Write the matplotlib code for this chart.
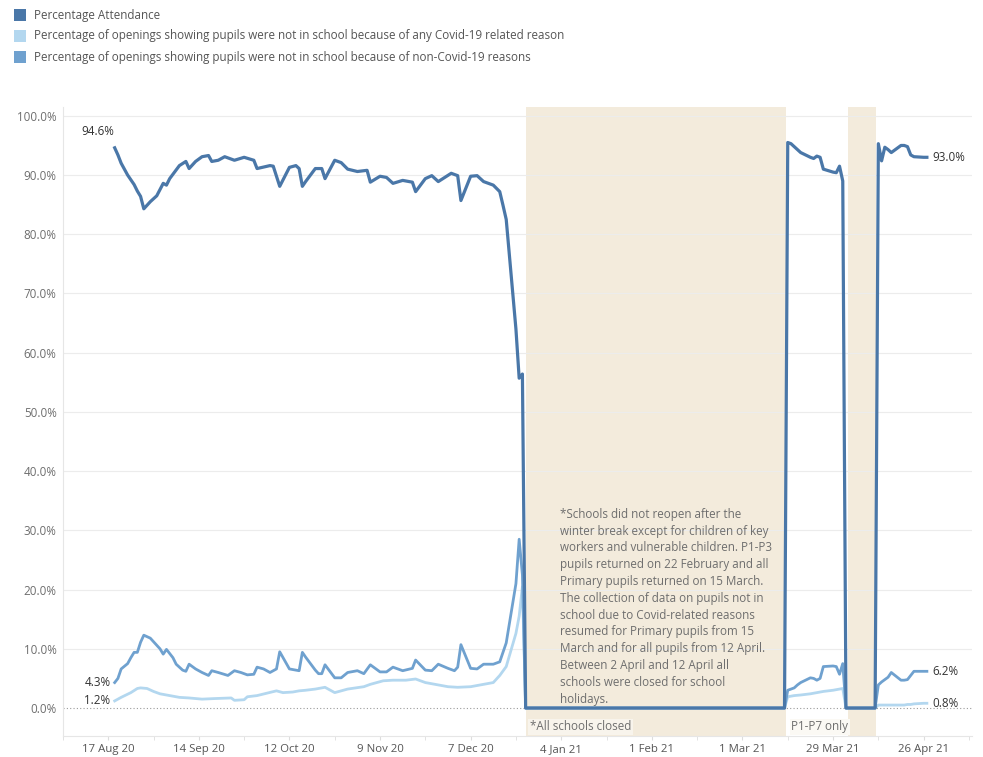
import matplotlib
matplotlib.use("Agg")
import matplotlib.pyplot as plt
from matplotlib.patches import Rectangle
import pandas as pd

plt.rcParams['font.family'] = ['Open Sans', 'DejaVu Sans']

# ---- data ----
att_dates = ["2020-08-19", "2020-08-20", "2020-08-21", "2020-08-23", "2020-08-25", "2020-08-26",
             "2020-08-27", "2020-08-28", "2020-08-30", "2020-09-01", "2020-09-03", "2020-09-04",
             "2020-09-05", "2020-09-08", "2020-09-10", "2020-09-11", "2020-09-13", "2020-09-15",
             "2020-09-17", "2020-09-18", "2020-09-20", "2020-09-22", "2020-09-25", "2020-09-28",
             "2020-10-01", "2020-10-02", "2020-10-06", "2020-10-07", "2020-10-09", "2020-10-12",
             "2020-10-14", "2020-10-15", "2020-10-16", "2020-10-17", "2020-10-20", "2020-10-22",
             "2020-10-23", "2020-10-26", "2020-10-28", "2020-10-30", "2020-11-02", "2020-11-05",
             "2020-11-06", "2020-11-09", "2020-11-11", "2020-11-13", "2020-11-16", "2020-11-18",
             "2020-11-19", "2020-11-20", "2020-11-23", "2020-11-25", "2020-11-27", "2020-12-01",
             "2020-12-03", "2020-12-04", "2020-12-07", "2020-12-09", "2020-12-11", "2020-12-14",
             "2020-12-16", "2020-12-17", "2020-12-18", "2020-12-21", "2020-12-22", "2020-12-23"]
att_vals = [94.6, 93.4, 92.0, 90.0, 88.4, 87.3,
            86.4, 84.3, 85.5, 86.5, 88.6, 88.3,
            89.4, 91.6, 92.3, 91.1, 92.3, 93.1,
            93.3, 92.3, 92.5, 93.1, 92.5, 93.0,
            92.5, 91.1, 91.6, 91.5, 88.1, 91.3,
            91.6, 91.1, 88.1, 88.9, 91.1, 91.1,
            89.4, 92.5, 92.1, 91.0, 90.6, 90.8,
            88.8, 89.8, 89.6, 88.6, 89.1, 88.9,
            88.8, 87.2, 89.4, 89.9, 88.9, 90.3,
            89.9, 85.7, 89.8, 89.9, 88.9, 88.3,
            87.2, 84.9, 82.5, 64.0, 55.7, 56.4]

noncov_dates = ["2020-08-19", "2020-08-20", "2020-08-21", "2020-08-23", "2020-08-24", "2020-08-25",
                "2020-08-26", "2020-08-27", "2020-08-28", "2020-08-30", "2020-08-31", "2020-09-02",
                "2020-09-03", "2020-09-04", "2020-09-06", "2020-09-07", "2020-09-09", "2020-09-10",
                "2020-09-11", "2020-09-13", "2020-09-15", "2020-09-17", "2020-09-18", "2020-09-20",
                "2020-09-23", "2020-09-25", "2020-09-27", "2020-09-29", "2020-10-01", "2020-10-02",
                "2020-10-04", "2020-10-06", "2020-10-08", "2020-10-09", "2020-10-12", "2020-10-15",
                "2020-10-16", "2020-10-17", "2020-10-20", "2020-10-21", "2020-10-22", "2020-10-23",
                "2020-10-26", "2020-10-28", "2020-10-30", "2020-11-02", "2020-11-04", "2020-11-06",
                "2020-11-09", "2020-11-11", "2020-11-13", "2020-11-16", "2020-11-19", "2020-11-20",
                "2020-11-23", "2020-11-25", "2020-11-27", "2020-11-30", "2020-12-02", "2020-12-03",
                "2020-12-04", "2020-12-07", "2020-12-09", "2020-12-11", "2020-12-14", "2020-12-16",
                "2020-12-17", "2020-12-18", "2020-12-21", "2020-12-22", "2020-12-23"]
noncov_vals = [4.3, 5.0, 6.6, 7.5, 8.5, 9.4,
               9.4, 11.1, 12.3, 11.8, 11.2, 10.0,
               9.1, 9.9, 8.5, 7.4, 6.4, 6.2,
               7.4, 6.6, 6.0, 5.5, 6.3, 6.0,
               5.5, 6.3, 6.0, 5.6, 5.7, 6.9,
               6.6, 6.0, 6.6, 9.5, 6.6, 6.3,
               9.4, 8.6, 6.4, 5.8, 5.8, 7.3,
               5.1, 5.1, 6.0, 6.3, 5.8, 7.3,
               6.1, 6.1, 6.9, 6.3, 6.7, 8.1,
               6.4, 6.3, 7.4, 6.7, 6.3, 6.9,
               10.7, 6.7, 6.6, 7.4, 7.4, 7.8,
               9.4, 11.0, 21.0, 28.5, 22.5]

cov_dates = ["2020-08-19", "2020-08-21", "2020-08-24", "2020-08-26", "2020-08-27", "2020-08-29",
             "2020-08-31", "2020-09-02", "2020-09-05", "2020-09-08", "2020-09-11", "2020-09-15",
             "2020-09-19", "2020-09-24", "2020-09-25", "2020-09-28", "2020-09-29", "2020-10-02",
             "2020-10-05", "2020-10-08", "2020-10-10", "2020-10-13", "2020-10-15", "2020-10-17",
             "2020-10-20", "2020-10-23", "2020-10-26", "2020-10-30", "2020-11-04", "2020-11-06",
             "2020-11-10", "2020-11-13", "2020-11-17", "2020-11-20", "2020-11-23", "2020-11-26",
             "2020-11-30", "2020-12-03", "2020-12-07", "2020-12-11", "2020-12-14", "2020-12-16",
             "2020-12-18", "2020-12-21", "2020-12-22", "2020-12-23"]
cov_vals = [1.2, 1.8, 2.6, 3.3, 3.4, 3.3,
            2.8, 2.4, 2.1, 1.8, 1.7, 1.5,
            1.6, 1.7, 1.3, 1.4, 1.9, 2.1,
            2.5, 2.9, 2.6, 2.7, 2.9, 3.0,
            3.2, 3.5, 2.6, 3.2, 3.6, 4.0,
            4.6, 4.7, 4.7, 4.9, 4.3, 4.0,
            3.6, 3.5, 3.6, 4.0, 4.3, 5.5,
            7.0, 12.6, 15.5, 20.5]

# closure and spring term, shared dates for all three series
late_dates = ["2020-12-24", "2021-03-14", "2021-03-15", "2021-03-16", "2021-03-17", "2021-03-18",
              "2021-03-19", "2021-03-22", "2021-03-23", "2021-03-24", "2021-03-25", "2021-03-26",
              "2021-03-29", "2021-03-30", "2021-03-31", "2021-04-01", "2021-04-02", "2021-04-11",
              "2021-04-12", "2021-04-13", "2021-04-14", "2021-04-15", "2021-04-16", "2021-04-19",
              "2021-04-20", "2021-04-21", "2021-04-22", "2021-04-23", "2021-04-26", "2021-04-27"]
att_late = [0, 0, 95.5, 95.3, 94.8, 94.3, 93.8, 93.0, 92.8, 93.2, 93.0, 91.0,
            90.5, 90.4, 91.5, 89.0, 0, 0, 95.3, 92.4, 94.7, 94.3, 93.8, 95.0,
            95.0, 94.8, 93.4, 93.1, 93.0, 93.0]
noncov_late = [0, 0, 3.0, 3.2, 3.4, 3.9, 4.3, 5.1, 5.0, 4.7, 5.0, 7.0,
               7.1, 7.0, 5.7, 7.5, 0, 0, 3.9, 4.4, 4.8, 5.2, 6.0, 4.7,
               4.7, 4.8, 5.5, 6.2, 6.2, 6.2]
cov_late = [0, 0, 1.9, 2.0, 2.1, 2.15, 2.2, 2.4, 2.5, 2.6, 2.7, 2.8,
            3.0, 3.1, 3.2, 3.3, 0, 0, 0.5, 0.5, 0.5, 0.5, 0.5, 0.5,
            0.5, 0.6, 0.6, 0.7, 0.8, 0.8]

closures = [("2020-12-24 05:00", "2021-03-14 10:00"), ("2021-04-02 12:00", "2021-04-11 08:00")]

labels = ["Percentage Attendance",
          "Percentage of openings showing pupils were not in school because of any Covid-19 related reason",
          "Percentage of openings showing pupils were not in school because of non-Covid-19 reasons"]
note = ("*Schools did not reopen after the\nwinter break except for children of key\n"
        "workers and vulnerable children. P1-P3\npupils returned on 22 February and all\n"
        "Primary pupils returned on 15 March.\nThe collection of data on pupils not in\n"
        "school due to Covid-related reasons\nresumed for Primary pupils from 15\n"
        "March and for all pupils from 12 April.\nBetween 2 April and 12 April all\n"
        "schools were closed for school\nholidays.")

c_att = "#4a77a8"
c_cov = "#b3d7ef"
c_non = "#6fa1cf"
c_shade = "#f3ebdc"
grey = "#6e6e6e"

att = pd.Series(att_vals + att_late, index=pd.to_datetime(att_dates + late_dates))
non = pd.Series(noncov_vals + noncov_late, index=pd.to_datetime(noncov_dates + late_dates))
cov = pd.Series(cov_vals + cov_late, index=pd.to_datetime(cov_dates + late_dates))

fig = plt.figure(figsize=(9.83, 7.57), dpi=100)
ax = fig.add_axes([0.064, 0.0277, 0.925, 0.831])

for s, e in closures:
    ax.axvspan(pd.Timestamp(s), pd.Timestamp(e), color=c_shade, zorder=0, lw=0)
for v in range(10, 101, 10):
    ax.axhline(v, color="#ececec", lw=0.8, zorder=0.5)
ax.axhline(0, color="#9a9a9a", lw=0.8, ls=(0, (1, 2)), zorder=0.6)

ax.plot(cov.index, cov.values, color=c_cov, lw=2.0, zorder=2, solid_joinstyle="round")
ax.plot(non.index, non.values, color=c_non, lw=2.0, zorder=3, solid_joinstyle="round")
ax.plot(att.index, att.values, color=c_att, lw=2.3, zorder=4, solid_joinstyle="round")

ax.set_xlim(pd.Timestamp("2020-08-05 17:00"), pd.Timestamp("2021-05-11"))
ax.set_ylim(-4.73, 101.5)

ax.set_yticks(range(0, 101, 10))
ax.set_yticklabels([f"{v:.1f}%" for v in range(0, 101, 10)])
major = pd.date_range("2020-08-17", periods=10, freq="28D")
ax.set_xticks(major)
ax.set_xticklabels([f"{d.day} {d:%b %y}" for d in major])
ax.set_xticks(pd.date_range("2020-08-03", periods=21, freq="14D"), minor=True)
ax.tick_params(axis="y", length=0, pad=4.5, labelsize=8.4, labelcolor=grey)
ax.tick_params(axis="x", which="both", length=3, color="#dddddd", pad=2.5, labelsize=8.2, labelcolor="#555555")
for side in ["top", "right"]:
    ax.spines[side].set_visible(False)
ax.spines["left"].set_color("#e6e6e6")
ax.spines["bottom"].set_color("#e6e6e6")

# start and end labels
ax.annotate(f"{att.iloc[0]:.1f}%", (att.index[0], att.iloc[0]), xytext=(0, 12), textcoords="offset points",
            ha="right", va="center", fontsize=8.4, color="#333333")
ax.annotate(f"{non.iloc[0]:.1f}%", (non.index[0], non.iloc[0]), xytext=(-3, 0), textcoords="offset points",
            ha="right", va="center", fontsize=8.4, color="#333333")
ax.annotate(f"{cov.iloc[0]:.1f}%", (cov.index[0], cov.iloc[0]), xytext=(-3, 0), textcoords="offset points",
            ha="right", va="center", fontsize=8.4, color="#333333")
for s in [att, non, cov]:
    ax.annotate(f"{s.iloc[-1]:.1f}%", (s.index[-1], s.iloc[-1]), xytext=(4, 0), textcoords="offset points",
                ha="left", va="center", fontsize=8.4, color="#333333")

# notes
s1 = pd.Timestamp(closures[0][0])
e1 = pd.Timestamp(closures[0][1])
ax.annotate(note, (s1, 33.8), xytext=(24.5, 0), textcoords="offset points", ha="left", va="top",
            fontsize=8.4, color=grey, linespacing=1.38, zorder=5)
ax.annotate("*All schools closed", (s1, -3.2), xytext=(2.5, 0), textcoords="offset points",
            ha="left", va="center", fontsize=8.4, color=grey, zorder=5,
            bbox=dict(boxstyle="square,pad=0.15", fc="#f8f4ec", ec="none"))
ax.annotate("P1-P7 only", (e1, -3.2), xytext=(4, 0), textcoords="offset points",
            ha="left", va="center", fontsize=8.4, color=grey, zorder=5,
            bbox=dict(boxstyle="square,pad=0.15", fc="#fbf9f4", ec="none"))

# legend
W, H = 983, 757
for i, (lab, col) in enumerate(zip(labels, [c_att, c_cov, c_non])):
    yc = 15 + i * 21
    fig.patches.append(Rectangle((14 / W, 1 - (yc + 6) / H), 12 / W, 12 / H, transform=fig.transFigure,
                                 facecolor=col, edgecolor="none"))
    fig.text(34 / W, 1 - yc / H, lab, ha="left", va="center", fontsize=8.4, color="#555555")

fig.savefig("out.png", dpi=100)
